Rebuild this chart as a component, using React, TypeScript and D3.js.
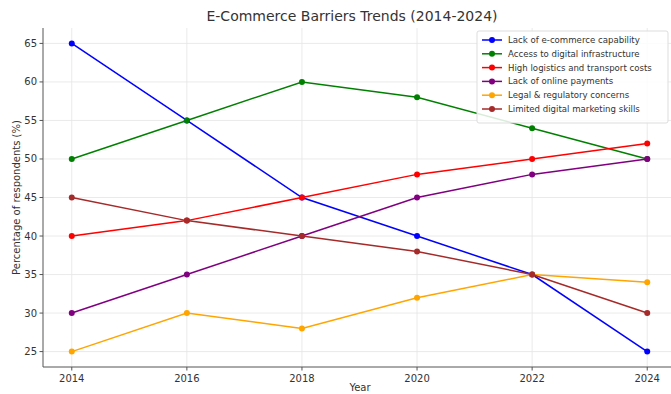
import React from "react";
import * as d3 from "d3";

const years = [2014, 2016, 2018, 2020, 2022, 2024];
const seriesNames = [
  "Lack of e-commerce capability",
  "Access to digital infrastructure",
  "High logistics and transport costs",
  "Lack of online payments",
  "Legal & regulatory concerns",
  "Limited digital marketing skills",
];
const seriesColors = ["blue", "green", "red", "purple", "orange", "brown"];
const lackCapability = [65, 55, 45, 40, 35, 25];
const digitalInfra = [50, 55, 60, 58, 54, 50];
const logistics = [40, 42, 45, 48, 50, 52];
const onlinePayments = [30, 35, 40, 45, 48, 50];
const legal = [25, 30, 28, 32, 35, 34];
const marketing = [45, 42, 40, 38, 35, 30];
const seriesValues = [lackCapability, digitalInfra, logistics, onlinePayments, legal, marketing];
const yTicks = [25, 30, 35, 40, 45, 50, 55, 60, 65];
const xTicks = [2014, 2016, 2018, 2020, 2022, 2024];

const W = 671;
const H = 394;
const left = 43;
const right = 676;
const top = 28;
const bottom = 367;
const font = "DejaVu Sans, sans-serif";
const textColor = "#333";

export default function App() {
  const x = d3.scaleLinear().domain([2013.5, 2024.5]).range([left, right]);
  const y = d3.scaleLinear().domain([23, 67]).range([bottom, top]);
  const line = d3
    .line<number>()
    .x((_, i) => x(years[i]))
    .y((v) => y(v));

  return (
    <svg
      width={W}
      height={H}
      style={{ position: "absolute", left: 0, top: 0, background: "#fff" }}
      fontFamily={font}
    >
      <rect width={W} height={H} fill="#fff" />
      {xTicks.map((t) => (
        <line key={"gx" + t} x1={x(t)} x2={x(t)} y1={top} y2={bottom} stroke="#e4e4e4" strokeWidth={0.8} />
      ))}
      {yTicks.map((t) => (
        <line key={"gy" + t} x1={left} x2={right} y1={y(t)} y2={y(t)} stroke="#e4e4e4" strokeWidth={0.8} />
      ))}
      {seriesValues.map((vals, si) => (
        <g key={"s" + si}>
          <path d={line(vals) || ""} fill="none" stroke={seriesColors[si]} strokeWidth={1.5} />
          {vals.map((v, i) => (
            <circle key={i} cx={x(years[i])} cy={y(v)} r={3} fill={seriesColors[si]} />
          ))}
        </g>
      ))}
      <line x1={left} x2={left} y1={top} y2={bottom} stroke="#555" strokeWidth={1} />
      <line x1={left} x2={right} y1={bottom} y2={bottom} stroke="#555" strokeWidth={1} />
      {yTicks.map((t) => (
        <g key={"yt" + t}>
          <line x1={left - 3.5} x2={left} y1={y(t)} y2={y(t)} stroke="#555" />
          <text x={left - 6} y={y(t)} dy="0.35em" textAnchor="end" fontSize={10} fill={textColor}>
            {t}
          </text>
        </g>
      ))}
      {xTicks.map((t) => (
        <g key={"xt" + t}>
          <line x1={x(t)} x2={x(t)} y1={bottom} y2={bottom + 3.5} stroke="#555" />
          <text x={x(t)} y={bottom + 15} textAnchor="middle" fontSize={10} fill={textColor}>
            {t}
          </text>
        </g>
      ))}
      <text x={360} y={391} textAnchor="middle" fontSize={10} fill={textColor}>
        Year
      </text>
      <text
        transform={`translate(20, ${(top + bottom) / 2}) rotate(-90)`}
        textAnchor="middle"
        fontSize={10}
        fill={textColor}
      >
        Percentage of respondents (%)
      </text>
      <text x={352} y={21} textAnchor="middle" fontSize={14} fill={textColor}>
        E-Commerce Barriers Trends (2014-2024)
      </text>
      <g>
        <rect x={477} y={31} width={191} height={92} fill="#fff" fillOpacity={0.85} stroke="#ddd" rx={2} />
        {seriesNames.map((n, i) => {
          const ly = 40 + i * 13.8;
          return (
            <g key={"l" + i}>
              <line x1={482} x2={502} y1={ly} y2={ly} stroke={seriesColors[i]} strokeWidth={1.5} />
              <circle cx={492} cy={ly} r={3} fill={seriesColors[i]} />
              <text x={508} y={ly} dy="0.35em" fontSize={8.6} fill={textColor}>
                {n}
              </text>
            </g>
          );
        })}
      </g>
    </svg>
  );
}
